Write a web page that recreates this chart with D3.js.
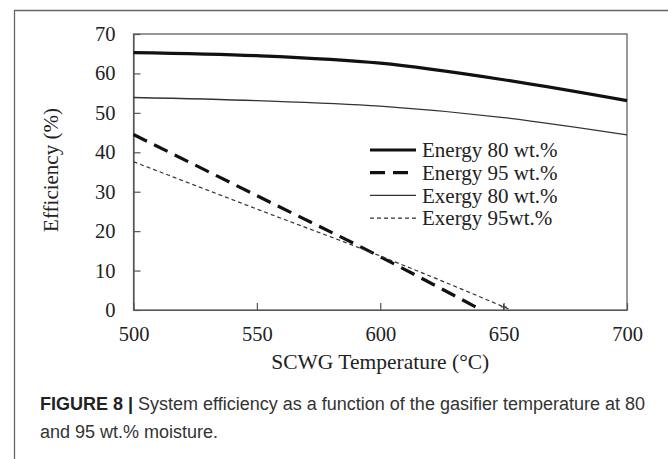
<!DOCTYPE html>
<html>
<head>
<meta charset="utf-8">
<script src="https://cdn.jsdelivr.net/npm/d3@7"></script>
<style>
    body { margin: 0; background: #fff; }
    .axis-text { font-family: "Liberation Serif", "Times New Roman", serif; fill: #222; }
    .caption { font-family: "Liberation Sans", Arial, sans-serif; fill: #333; }
</style>
</head>
<body>
<div id="chart"></div>
<script>
// temperatures (°C) and efficiencies (%)
var tempsEnergy80 = [500, 550, 600, 650, 700];
var energy80 = [65.3, 64.5, 62.6, 58.4, 53.1];

var tempsExergy80 = [500, 550, 600, 650, 700];
var exergy80 = [53.9, 53.1, 51.7, 48.8, 44.4];

var tempsEnergy95 = [500, 550, 600, 641];
var energy95 = [44.5, 29.0, 13.5, 0];

var tempsExergy95 = [500, 550, 600, 650, 653];
var exergy95 = [37.6, 25.6, 13.7, 0.8, 0];

var xTicks = [500, 550, 600, 650, 700];
var yTicks = [0, 10, 20, 30, 40, 50, 60, 70];

var seriesNames = ["Energy 80 wt.%", "Energy 95 wt.%", "Exergy 80 wt.%", "Exergy 95wt.%"];

var W = 668, H = 459;
var margin = { top: 34, right: 41, bottom: 149, left: 133.5 };
var width = W - margin.left - margin.right,
    height = H - margin.top - margin.bottom;

var svg = d3.select("#chart").append("svg")
    .attr("width", W)
    .attr("height", H);

// outer figure frame (left + top only)
svg.append("path")
    .attr("d", "M14.5," + H + "V10.5H" + W)
    .attr("fill", "none")
    .attr("stroke", "#666")
    .attr("stroke-width", 1.3);

var g = svg.append("g")
    .attr("transform", "translate(" + margin.left + "," + margin.top + ")");

var x = d3.scaleLinear().domain([500, 700]).range([0, width]);
var y = d3.scaleLinear().domain([0, 70]).range([height, 0]);

// plot box
g.append("rect")
    .attr("width", width)
    .attr("height", height)
    .attr("fill", "none")
    .attr("stroke", "#555")
    .attr("stroke-width", 1.2);

// axes, ticks pointing inward
var xAxis = d3.axisBottom(x).tickValues(xTicks).tickSizeInner(-7).tickSizeOuter(0).tickPadding(16);
var yAxis = d3.axisLeft(y).tickValues(yTicks).tickSizeInner(-7).tickSizeOuter(0).tickPadding(18);

var xG = g.append("g")
    .attr("transform", "translate(0," + height + ")")
    .call(xAxis);
var yG = g.append("g").call(yAxis);

[xG, yG].forEach(function(a) {
    a.select(".domain").attr("stroke", "#555").attr("stroke-width", 1.2);
    a.selectAll(".tick line").attr("stroke", "#555").attr("stroke-width", 1.2);
    a.selectAll(".tick text")
        .attr("class", "axis-text")
        .style("font-size", "20.5px");
});

// axis titles
g.append("text")
    .attr("class", "axis-text")
    .attr("x", width / 2)
    .attr("y", height + 59)
    .attr("text-anchor", "middle")
    .style("font-size", "21.5px")
    .text("SCWG Temperature (°C)");

g.append("text")
    .attr("class", "axis-text")
    .attr("transform", "translate(" + (58 - margin.left) + "," + (height / 2 - 2) + ") rotate(-90)")
    .attr("text-anchor", "middle")
    .style("font-size", "21px")
    .text("Efficiency (%)");

// lines
var line = d3.line()
    .x(function(d) { return x(d.t); })
    .y(function(d) { return y(d.v); })
    .curve(d3.curveMonotoneX);

function zipSeries(ts, vs) {
    return ts.map(function(t, i) { return { t: t, v: vs[i] }; });
}

var styles = [
    { width: 3.2, dash: null, color: "#111" },
    { width: 3.2, dash: "15,8", color: "#111" },
    { width: 1.3, dash: null, color: "#333" },
    { width: 1.2, dash: "4,3", color: "#333" }
];

var seriesData = [
    zipSeries(tempsEnergy80, energy80),
    zipSeries(tempsEnergy95, energy95),
    zipSeries(tempsExergy80, exergy80),
    zipSeries(tempsExergy95, exergy95)
];

seriesData.forEach(function(d, i) {
    g.append("path")
        .attr("d", line(d))
        .attr("fill", "none")
        .attr("stroke", styles[i].color)
        .attr("stroke-width", styles[i].width)
        .attr("stroke-dasharray", styles[i].dash);
});

// small plus marker near the end of the exergy 95 line
var pm = seriesData[3][3];
g.append("path")
    .attr("d", "M" + (x(pm.t) - 3) + "," + y(pm.v) + "h6M" + x(pm.t) + "," + (y(pm.v) - 3) + "v6")
    .attr("stroke", "#333")
    .attr("stroke-width", 1);

// legend
var legend = g.append("g")
    .attr("transform", "translate(" + (370 - margin.left) + "," + (150 - margin.top) + ")");

seriesNames.forEach(function(name, i) {
    var row = legend.append("g").attr("transform", "translate(0," + (i * 22.7) + ")");
    row.append("line")
        .attr("x1", 0).attr("x2", 46)
        .attr("stroke", styles[i].color)
        .attr("stroke-width", styles[i].width)
        .attr("stroke-dasharray", styles[i].dash);
    row.append("text")
        .attr("class", "axis-text")
        .attr("x", 52)
        .attr("dy", "0.35em")
        .style("font-size", "21px")
        .text(name);
});

// caption
var cap = svg.append("text")
    .attr("class", "caption")
    .style("font-size", "18px");
var l1 = cap.append("tspan").attr("x", 40).attr("y", 410);
l1.append("tspan").style("font-weight", "bold").style("fill", "#222").text("FIGURE 8 | ");
l1.append("tspan").text("System efficiency as a function of the gasifier temperature at 80");
cap.append("tspan").attr("x", 40).attr("y", 438).text("and 95 wt.% moisture.");
</script>
</body>
</html>
